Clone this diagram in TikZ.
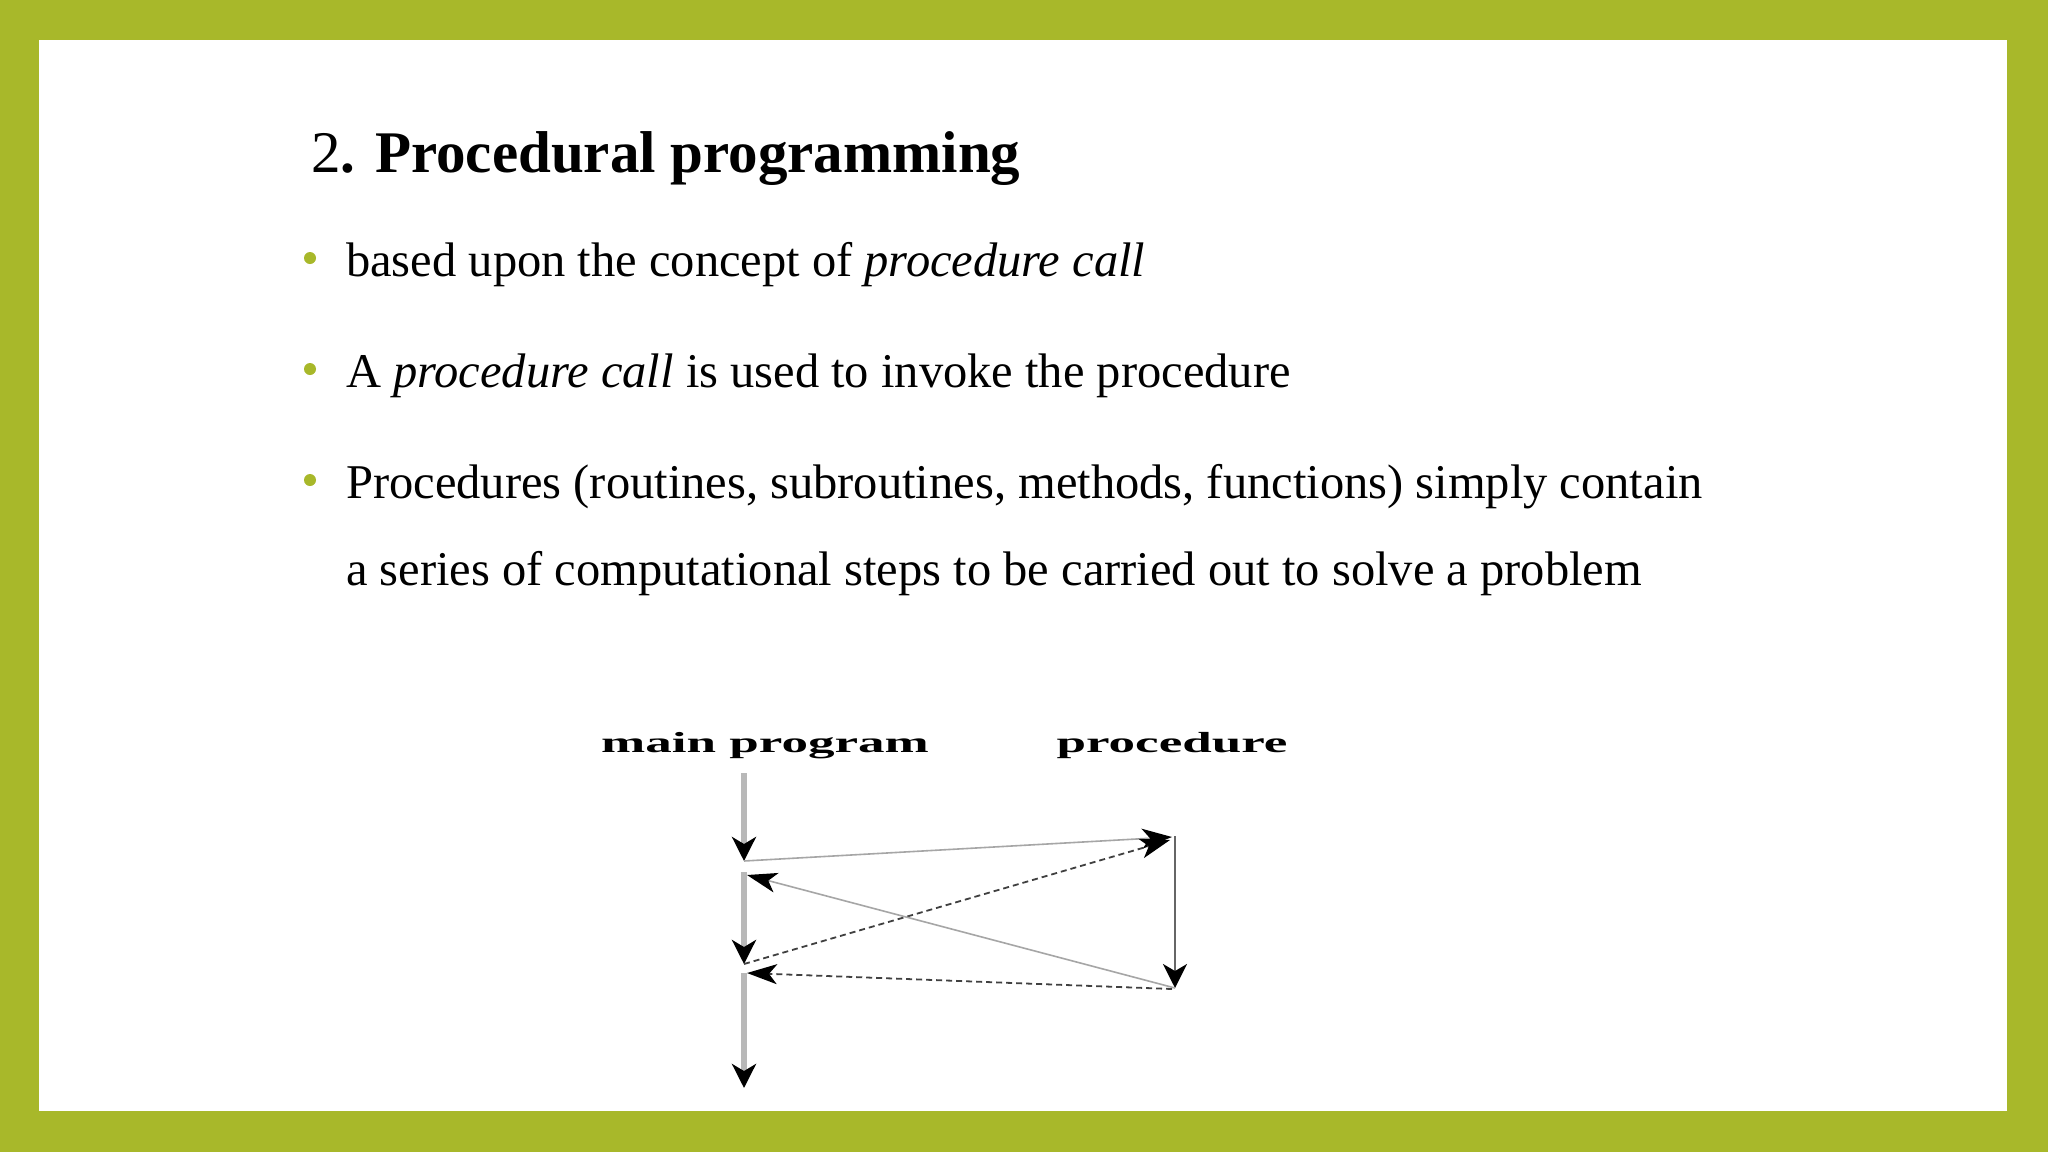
\documentclass[tikz,border=0pt]{standalone}
\usepackage{fontspec}
\setmainfont{Liberation Serif}
\usetikzlibrary{arrows.meta}
\definecolor{frame}{HTML}{A8B82A}
\begin{document}
\begin{tikzpicture}[x=1pt,y=-1pt,
  bul/.style={anchor=base west,font=\fontsize{48.5}{56}\selectfont,inner sep=0},
  dot/.style={circle,fill=frame,inner sep=0,minimum size=12pt},
  lbl/.style={font=\bfseries\fontsize{29}{34}\selectfont,xscale=1.83,inner sep=0,anchor=base},
  mainline/.style={draw=black!28,line width=6pt,-{Stealth[length=24pt,width=24pt,inset=7pt,fill=black,color=black]}},
  procline/.style={draw=black!60,line width=2.5pt,-{Stealth[length=24pt,width=24pt,inset=7pt,fill=black,color=black]}},
  callthin/.style={draw=black!35,line width=1.6pt,-{Stealth[length=30pt,width=20pt,inset=8pt,fill=black,color=black]}},
  calldash/.style={draw=black!75,line width=1.8pt,dashed,dash pattern=on 6pt off 4pt,-{Stealth[length=30pt,width=20pt,inset=8pt,fill=black,color=black]}}]
\useasboundingbox (0,0) rectangle (2048,1152);
\fill[frame] (0,0) rectangle (2048,1152);
\fill[white] (39,40) rectangle (2007,1111);
\node[anchor=base west,font=\fontsize{59}{64}\selectfont,inner sep=0] (title) at (311,172) {2\textbf{. Procedural programming}};
\node[dot] (d1) at (310,258) {};
\node[bul] (b1) at (346,276) {based upon the concept of \textit{procedure call}};
\node[dot] (d2) at (310,369) {};
\node[bul] (b2) at (346,387) {A \textit{procedure call} is used to invoke the procedure};
\node[dot] (d3) at (310,480) {};
\node[bul] (b3) at (346,498) {Procedures (routines, subroutines, methods, functions) simply contain};
\node[bul] (b4) at (346,585) {a series of computational steps to be carried out to solve a problem};
\node[lbl] (mp) at (765,752) {main program};
\node[lbl] (pr) at (1172,752) {procedure};
\coordinate (m1) at (744,773); \coordinate (m1e) at (744,861);
\coordinate (m2) at (744,872); \coordinate (m2e) at (744,964);
\coordinate (m3) at (744,973); \coordinate (m3e) at (744,1088);
\coordinate (p1) at (1175,836); \coordinate (p1e) at (1175,988);
\draw[mainline] (m1) -- (m1e);
\draw[mainline] (m2) -- (m2e);
\draw[mainline] (m3) -- (m3e);
\draw[procline] (p1) -- (p1e);
\draw[callthin] (m1e) -- (1172,837);
\draw[calldash] (m2e) -- (1170,840);
\draw[callthin] (p1e) -- (747,875);
\draw[calldash] (1172,989) -- (747,973);
\end{tikzpicture}
\end{document}
